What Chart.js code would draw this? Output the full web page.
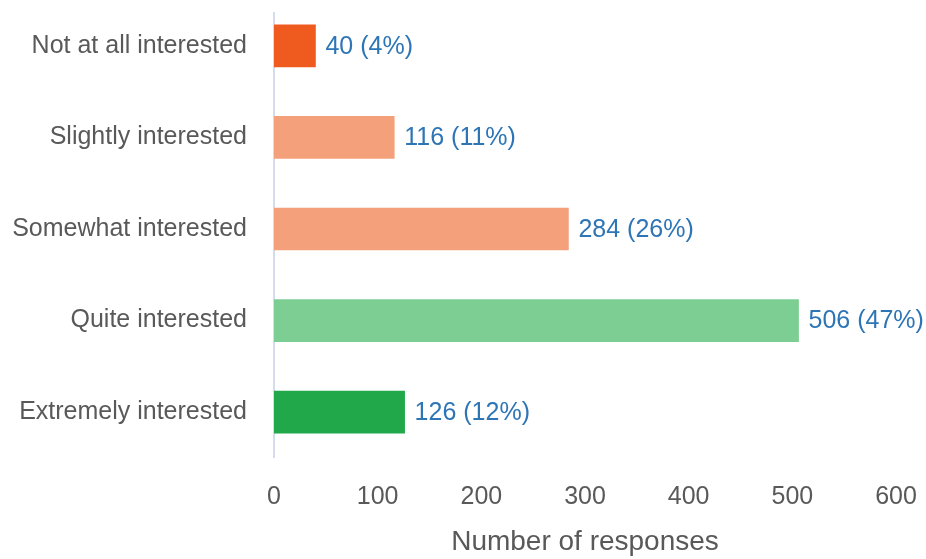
<!DOCTYPE html>
<html><head><meta charset="utf-8">
<script src="https://cdn.jsdelivr.net/npm/chart.js@4/dist/chart.umd.min.js"></script>
<style>html,body{margin:0;padding:0;background:#fff}#wrap{width:926px;height:559px}</style>
</head><body><div id="wrap"><canvas id="c"></canvas></div>
<script>
const categories = ["Not at all interested","Slightly interested","Somewhat interested","Quite interested","Extremely interested"];
const responses = [40,116,284,506,126];
const percents = [4,11,26,47,12];
const barColors = ["#ef5a1f","#f4a07b","#f4a07b","#7dce93","#21a84a"];
const xTicks = [0,100,200,300,400,500,600];

const FONT = "'Liberation Sans Narrow','Arial Narrow','Liberation Sans',sans-serif";

const valueLabels = {
  id:'valueLabels',
  beforeDatasetsDraw(chart){
    const ctx = chart.ctx, a = chart.chartArea;
    const x0 = chart.scales.x.getPixelForValue(0);
    ctx.save();
    ctx.strokeStyle = "#c6d2ea";
    ctx.lineWidth = 1.5;
    ctx.beginPath();
    ctx.moveTo(x0, a.top + 12);
    ctx.lineTo(x0, a.bottom);
    ctx.stroke();
    ctx.restore();
  },
  afterDatasetsDraw(chart){
    const ctx = chart.ctx;
    const meta = chart.getDatasetMeta(0);
    ctx.save();
    ctx.font = "25px " + FONT;
    ctx.fillStyle = "#2e75b6";
    ctx.textBaseline = "middle";
    ctx.textAlign = "left";
    meta.data.forEach((bar,i)=>{
      ctx.fillText(responses[i] + " (" + percents[i] + "%)", bar.x + 10, bar.y + 1);
    });
    ctx.restore();
  }
};

new Chart(document.getElementById('c'),{
  type:'bar',
  data:{labels:categories,datasets:[{data:responses,backgroundColor:barColors,barThickness:42}]},
  options:{
    indexAxis:'y',
    responsive:true,maintainAspectRatio:false,animation:false,
    layout:{padding:{left:0,right:30,top:-2,bottom:0}},
    plugins:{legend:{display:false},tooltip:{enabled:false}},
    scales:{
      x:{min:0,max:600,
        afterBuildTicks(ax){ax.ticks = xTicks.map(v=>({value:v}));},
        grid:{display:false,drawTicks:false},
        border:{display:false},
        ticks:{color:"#595959",font:{family:FONT,size:25},padding:24},
        title:{display:true,text:"Number of responses",color:"#595959",font:{family:FONT,size:28},padding:{top:6,bottom:0}},
        afterFit(ax){ax.height = 101; ax.paddingLeft = 0; ax.paddingRight = 0;}
      },
      y:{
        grid:{display:false,drawTicks:false},
        border:{display:false},
        ticks:{color:"#595959",font:{family:FONT,size:25},padding:27},
        afterFit(ax){ax.width = 274; ax.paddingTop = 0; ax.paddingBottom = 0;}
      }
    }
  },
  plugins:[valueLabels]
});
</script></body></html>
